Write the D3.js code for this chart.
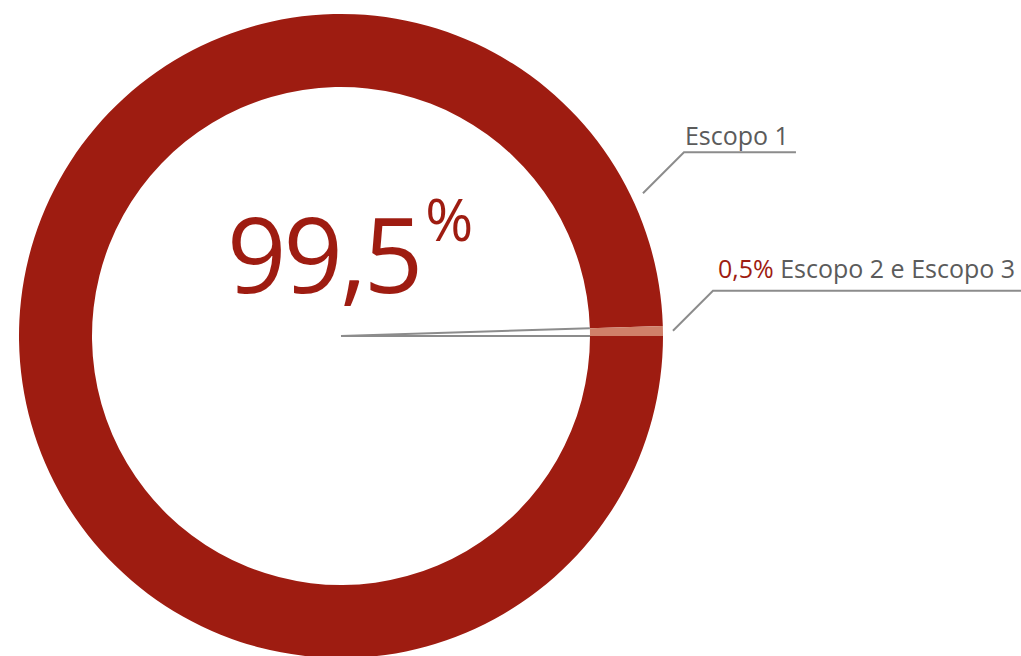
<!DOCTYPE html>
<html lang="pt">
<head>
<meta charset="utf-8">
<script src="https://d3js.org/d3.v7.min.js"></script>
<style>
  html, body { margin: 0; padding: 0; background: #fff; }
  svg text { font-family: "Open Sans", "Noto Sans", sans-serif; }
  .lbl { fill: #5b5b5b; font-size: 25px; }
  .leader { fill: none; stroke: #8c8c8c; stroke-width: 2px; }
</style>
</head>
<body>
<svg id="chart" width="1021" height="656"></svg>
<script>
var categories = ["Escopo 1", "Escopo 2 e Escopo 3"]
var values = [99.5, 0.5]
var colors = ["#9e1c11", "#d08069"]
var bigLabel = "99,5"
var smallPct = "0,5%"

var width = 1021, height = 656
var cx = 341, cy = 336
var outer = 322, inner = 249

var svg = d3.select("#chart")
var g = svg.append("g").attr("transform", "translate(" + cx + "," + cy + ")")

var pie = d3.pie().sort(null).value(d => d)
    .startAngle(Math.PI / 2).endAngle(Math.PI / 2 + 2 * Math.PI)
var arcs = pie(values)
var arc = d3.arc().innerRadius(inner).outerRadius(outer)

g.selectAll("path.slice").data(arcs).enter().append("path")
    .attr("class", "slice")
    .attr("d", arc)
    .attr("fill", (d, i) => colors[i])

// edges of the small slice drawn back to the centre
var small = arcs[1]
var px = (a, r) => r * Math.sin(a)
var py = (a, r) => -r * Math.cos(a)
g.selectAll("line.edge").data([small.startAngle, small.endAngle]).enter().append("line")
    .attr("class", "edge")
    .attr("x1", 0).attr("y1", 0)
    .attr("x2", a => px(a, inner)).attr("y2", a => py(a, inner))
    .attr("stroke", "#8c8c8c").attr("stroke-width", 2)

// big centre label
var big = g.append("text").attr("x", -114).attr("y", -43)
    .attr("fill", "#9e1c11").style("font-size", "104px")
big.append("tspan").text(bigLabel).style("letter-spacing", "-3px")
big.append("tspan").text("%").style("font-size", "58px").attr("dx", 5).attr("dy", -52)

// leader lines
function leader(angle, r0, dx, len) {
  var x0 = px(angle, r0), y0 = py(angle, r0)
  var x1 = x0 + dx, y1 = y0 - dx
  return { pts: [[x0, y0], [x1, y1], [x1 + len, y1]], x: x1, y: y1 }
}
var l1 = leader(64.7 * Math.PI / 180, 334, 41, 112)
var a2 = (small.startAngle + small.endAngle) / 2
var l2 = leader(a2, outer + 10, 40, width - cx)

g.selectAll("path.leader").data([l1, l2]).enter().append("path")
    .attr("class", "leader")
    .attr("d", d => d3.line()(d.pts))

g.append("text").attr("class", "lbl")
    .attr("x", l1.x + 1).attr("y", l1.y - 7)
    .text(categories[0])

var t2 = g.append("text").attr("class", "lbl")
    .attr("x", l2.x + 5).attr("y", l2.y - 13)
t2.append("tspan").attr("fill", "#9e1c11").text(smallPct)
t2.append("tspan").text(" " + categories[1])
</script>
</body>
</html>
